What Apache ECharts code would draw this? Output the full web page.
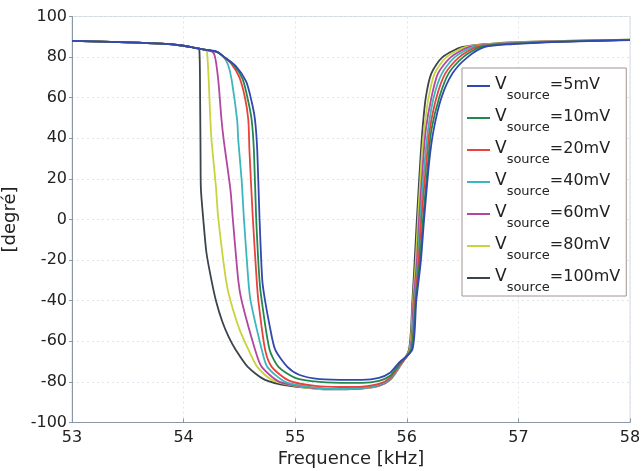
<!DOCTYPE html>
<html>
<head>
<meta charset="utf-8">
<script src="https://cdn.jsdelivr.net/npm/echarts@6/dist/echarts.min.js"></script>
<style>html,body{margin:0;padding:0;background:#fff;}#c{width:641px;height:471px;}</style>
</head>
<body>
<div id="c"></div>
<script>
const seriesNames = ['5mV', '10mV', '20mV', '40mV', '60mV', '80mV', '100mV'];
const seriesColors = ['#3347b0', '#23884e', '#e8423b', '#3cb6bd', '#b2479f', '#c9d43c', '#3b444c'];
const xTicks = [53, 54, 55, 56, 57, 58];
const yTicks = [-100, -80, -60, -40, -20, 0, 20, 40, 60, 80, 100];

const freq5 = [53.0, 53.5, 53.8, 54.0, 54.1, 54.2, 54.3, 54.37, 54.47, 54.56, 54.61, 54.64, 54.66, 54.68, 54.705, 54.73, 54.77, 54.82, 54.93, 55.04, 55.22, 55.49, 55.6, 55.75, 55.85, 55.93, 56.05, 56.085, 56.125, 56.155, 56.20, 56.24, 56.31, 56.41, 56.545, 56.70, 56.95, 57.3, 58.0];
const phase5 = [88, 87.3, 86.6, 85.6, 84.6, 83.6, 82.6, 79.8, 75.5, 68, 58, 49, 34, 1, -30, -40, -52, -64, -72.6, -76.6, -78.6, -79, -79, -78, -75.5, -70.5, -64, -40, -21, 0, 28, 44, 60, 72, 80, 85, 86.4, 87.4, 88.4];

const freq10 = [53.0, 53.5, 53.8, 54.0, 54.1, 54.2, 54.3, 54.36, 54.45, 54.53, 54.58, 54.61, 54.63, 54.65, 54.68, 54.7, 54.77, 54.85, 55.0, 55.22, 55.49, 55.6, 55.75, 55.85, 55.93, 56.04, 56.08, 56.115, 56.145, 56.19, 56.22, 56.29, 56.375, 56.505, 56.665, 56.92, 57.3, 58.0];
const phase10 = [88, 87.3, 86.6, 85.6, 84.6, 83.6, 82.6, 80.2, 76.2, 69, 58, 49, 34, 1, -30, -40, -64, -72.6, -78, -80, -80.5, -80.5, -79.5, -77, -71.5, -64, -40, -21, 0, 28, 44, 60, 72, 80, 85, 86.5, 87.5, 88.5];

const freq20 = [53.0, 53.5, 53.8, 54.0, 54.1, 54.2, 54.3, 54.35, 54.43, 54.5, 54.55, 54.58, 54.59, 54.62, 54.655, 54.67, 54.73, 54.79, 54.95, 55.18, 55.4, 55.6, 55.75, 55.85, 55.93, 56.04, 56.075, 56.105, 56.13, 56.175, 56.205, 56.265, 56.345, 56.47, 56.63, 56.9, 57.3, 58.0];
const phase20 = [88, 87.3, 86.6, 85.6, 84.6, 83.6, 82.6, 80.5, 76.5, 70, 60, 49, 34, 1, -30, -40, -64, -72.6, -79.5, -82, -82.5, -82.3, -81, -78, -72, -64, -40, -21, 0, 28, 44, 60, 72, 80, 85, 86.5, 87.5, 88.5];

const freq40 = [53.0, 53.5, 53.8, 54.0, 54.1, 54.2, 54.3, 54.36, 54.4, 54.43, 54.48, 54.49, 54.52, 54.54, 54.58, 54.6, 54.7, 54.75, 54.91, 55.13, 55.36, 55.6, 55.75, 55.85, 55.93, 56.035, 56.07, 56.10, 56.12, 56.16, 56.19, 56.24, 56.315, 56.43, 56.60, 56.88, 57.3, 58.0];
const phase40 = [88, 87.3, 86.6, 85.6, 84.6, 83.6, 82.6, 80, 76, 69, 49, 39, 19.5, 1, -30, -40, -64, -72.6, -80, -82.5, -83.5, -83, -81.5, -78.5, -72.5, -64, -40, -21, 0, 28, 44, 60, 72, 80, 85, 86.6, 87.6, 88.5];

const freq60 = [53.0, 53.5, 53.8, 54.0, 54.1, 54.2, 54.25, 54.28, 54.31, 54.34, 54.36, 54.42, 54.44, 54.49, 54.52, 54.64, 54.7, 54.86, 55.09, 55.31, 55.45, 55.6, 55.75, 55.85, 55.93, 56.03, 56.06, 56.09, 56.11, 56.145, 56.17, 56.22, 56.28, 56.395, 56.565, 56.85, 57.3, 58.0];
const phase60 = [88, 87.3, 86.6, 85.6, 84.6, 83.6, 83.0, 80.5, 69, 49, 39, 14.5, 1, -30, -40, -64, -72.6, -80, -82.5, -83.5, -83.5, -83, -81.8, -78.8, -72.8, -64, -40, -21, 0, 28, 44, 60, 72, 80, 85, 86.6, 87.7, 88.5];

const freq80 = [53.0, 53.5, 53.8, 54.0, 54.1, 54.18, 54.21, 54.24, 54.25, 54.29, 54.31, 54.38, 54.42, 54.5, 54.58, 54.66, 54.79, 55.0, 55.22, 55.4, 55.6, 55.75, 55.85, 55.93, 56.025, 56.055, 56.08, 56.10, 56.13, 56.155, 56.195, 56.25, 56.355, 56.53, 56.82, 57.3, 58.0];
const phase80 = [88, 87.3, 86.6, 85.6, 84.6, 83.8, 82.5, 49, 39, 16, 1, -30, -40, -54, -64, -72.6, -79, -82, -83.5, -83.6, -83.2, -82, -79, -73, -64, -40, -21, 0, 28, 44, 60, 72, 80, 85, 86.7, 87.8, 88.6];

const freq100 = [53.0, 53.5, 53.8, 54.0, 54.1, 54.14, 54.148, 54.152, 54.155, 54.175, 54.205, 54.25, 54.29, 54.345, 54.405, 54.465, 54.575, 54.73, 54.95, 55.22, 55.4, 55.6, 55.75, 55.85, 55.93, 56.02, 56.05, 56.07, 56.09, 56.12, 56.14, 56.17, 56.22, 56.32, 56.50, 56.8, 57.3, 58.0];
const phase100 = [88, 87.3, 86.6, 85.6, 84.6, 84.2, 60, 30, 15, 1, -16.5, -30, -40, -50, -58, -64, -72.6, -79, -82, -83.5, -83.7, -83.3, -82, -79, -73, -64, -40, -21, 0, 28, 44, 60, 72, 80, 85, 86.8, 87.8, 88.6];

const freqs = [freq5, freq10, freq20, freq40, freq60, freq80, freq100];
const phases = [phase5, phase10, phase20, phase40, phase60, phase80, phase100];

const FONT = 'DejaVu Sans';
const chart = echarts.init(document.getElementById('c'), null, {renderer: 'canvas'});

const series = seriesNames.map((n, i) => ({
  name: n,
  type: 'line',
  data: freqs[i].map((f, k) => [f, phases[i][k]]),
  symbol: 'none',
  smooth: 0.25,
  lineStyle: {width: 1.8, color: seriesColors[i]},
  itemStyle: {color: seriesColors[i]},
  z: 10 - i
}));

chart.setOption({
  animation: false,
  backgroundColor: '#ffffff',
  textStyle: {fontFamily: FONT},
  grid: {left: 72, right: 11, top: 16.5, bottom: 48.5, containLabel: false,
         outerBoundsMode: 'none',
         show: true, borderColor: '#d3dae2', borderWidth: 1},
  xAxis: {
    type: 'value', min: xTicks[0], max: xTicks[xTicks.length - 1], interval: 1,
    name: 'Frequence [kHz]', nameLocation: 'middle', nameGap: 22,
    nameTextStyle: {fontFamily: FONT, fontSize: 18, color: '#222'},
    axisLine: {show: true, onZero: false, lineStyle: {color: '#8a98a6', width: 1}},
    axisTick: {show: true, inside: true, length: 4, lineStyle: {color: '#8a98a6'}},
    axisLabel: {fontFamily: FONT, fontSize: 16, color: '#222', margin: 7},
    splitLine: {show: true, lineStyle: {color: '#dfe5ec', type: [2, 3], width: 1}}
  },
  yAxis: {
    type: 'value', min: yTicks[0], max: yTicks[yTicks.length - 1], interval: 20,
    name: '[degré]', nameLocation: 'middle', nameGap: 46,
    nameTextStyle: {fontFamily: FONT, fontSize: 18, color: '#222'},
    axisLine: {show: true, onZero: false, lineStyle: {color: '#8a98a6', width: 1}},
    axisTick: {show: true, inside: false, length: 3, lineStyle: {color: '#8a98a6'}},
    axisLabel: {fontFamily: FONT, fontSize: 16, color: '#222', margin: 5},
    splitLine: {show: true, lineStyle: {color: '#dfe5ec', type: [2, 3], width: 1}}
  },
  legend: {
    orient: 'vertical', left: 462, top: 68,
    backgroundColor: '#ffffff',
    borderColor: '#a09590', borderWidth: 1,
    padding: [2, 6, 2, 5],
    itemGap: 0, itemWidth: 23, itemHeight: 2, icon: 'rect',
    data: seriesNames,
    formatter: name => '{v|V}{s|source}{e|=' + name + '}',
    textStyle: {
      fontFamily: FONT, color: '#222',
      rich: {
        v: {fontFamily: FONT, fontSize: 17, lineHeight: 18, padding: [0, 0, 3, 0], verticalAlign: 'middle', color: '#222'},
        s: {fontFamily: FONT, fontSize: 13, lineHeight: 14, padding: [19, 0, 0, 0], verticalAlign: 'middle', color: '#222'},
        e: {fontFamily: FONT, fontSize: 16, lineHeight: 18, padding: [0, 0, 3, 0], verticalAlign: 'middle', color: '#222'}
      }
    }
  },
  series: series
});
</script>
</body>
</html>
